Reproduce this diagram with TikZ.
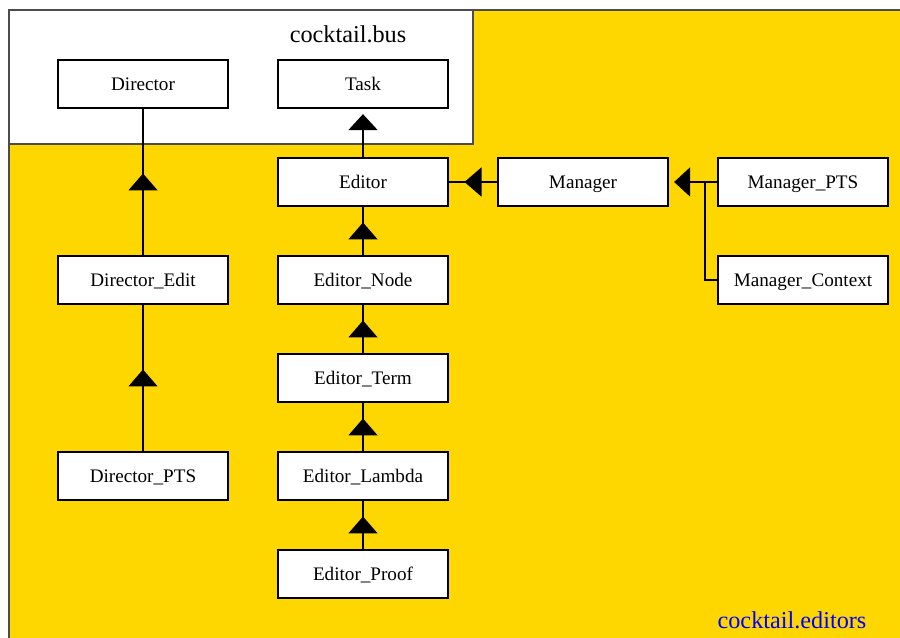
\documentclass[tikz,border=0pt]{standalone}
\usepackage{fontspec}
\setmainfont{Liberation Serif}
\usetikzlibrary{arrows.meta,decorations.markings}

\definecolor{busgold}{RGB}{255,215,0}
\tikzset{
  classbox/.style={draw, line width=1.3pt, fill=white, minimum width=3.4cm, minimum height=0.96cm,
    inner sep=0pt, text height=7pt, text depth=0pt, font=\fontsize{10.9}{13}\selectfont},
  pkglabel/.style={font=\fontsize{13.8}{16}\selectfont},
  link/.style={line width=1.1pt},
  inherit/.style={link, postaction={decorate}, decoration={markings,
    mark=at position 0.5 with {\arrow[xshift=0.17cm]{Triangle[width=0.58cm,length=0.34cm]}}}},
  inheritend/.style={link, -{Triangle[width=0.58cm,length=0.32cm]}, shorten >=0.1cm}
}

\begin{document}
\begin{tikzpicture}[x=0.02cm,y=-0.02cm]
\useasboundingbox (0,0) rectangle (900,638);
\draw [fill=busgold, draw=gray!60!black, line width=0.8pt] (9,10) rectangle (905,645);
\draw [fill=white, draw=gray!60!black, line width=0.8pt] (9,10) rectangle (473,144);
\node[pkglabel] (buslabel) at (348,34) {cocktail.bus};
\node[pkglabel, text=blue] (editorslabel) at (792,620) {cocktail.editors};

\node[classbox] (Director) at (143,84) {Director};
\node[classbox] (Task) at (363,84) {Task};
\node[classbox] (Editor) at (363,182) {Editor};
\node[classbox] (Manager) at (583,182) {Manager};
\node[classbox] (Manager_PTS) at (803,182) {Manager\_PTS};
\node[classbox] (Manager_Context) at (803,280) {Manager\_Context};
\node[classbox] (Director_Edit) at (143,280) {Director\_Edit};
\node[classbox] (Director_PTS) at (143,476) {Director\_PTS};
\node[classbox] (Editor_Node) at (363,280) {Editor\_Node};
\node[classbox] (Editor_Term) at (363,378) {Editor\_Term};
\node[classbox] (Editor_Lambda) at (363,476) {Editor\_Lambda};
\node[classbox] (Editor_Proof) at (363,574) {Editor\_Proof};
\coordinate (join) at (705,182);

\draw [inherit] (Director_Edit.north) -- (Director.south);
\draw [inherit] (Director_PTS.north) -- (Director_Edit.south);
\draw [inheritend] (Editor.north) -- (Task.south);
\draw [inherit] (Editor_Node.north) -- (Editor.south);
\draw [inherit] (Editor_Term.north) -- (Editor_Node.south);
\draw [inherit] (Editor_Lambda.north) -- (Editor_Term.south);
\draw [inherit] (Editor_Proof.north) -- (Editor_Lambda.south);
\draw [inherit] (Manager.west) -- (Editor.east);
\draw [link] (Manager_PTS.west) -- (join);
\draw [link] (Manager_Context.west) -| (join);
\draw [inheritend] (join) -- (Manager.east);
\end{tikzpicture}
\end{document}
